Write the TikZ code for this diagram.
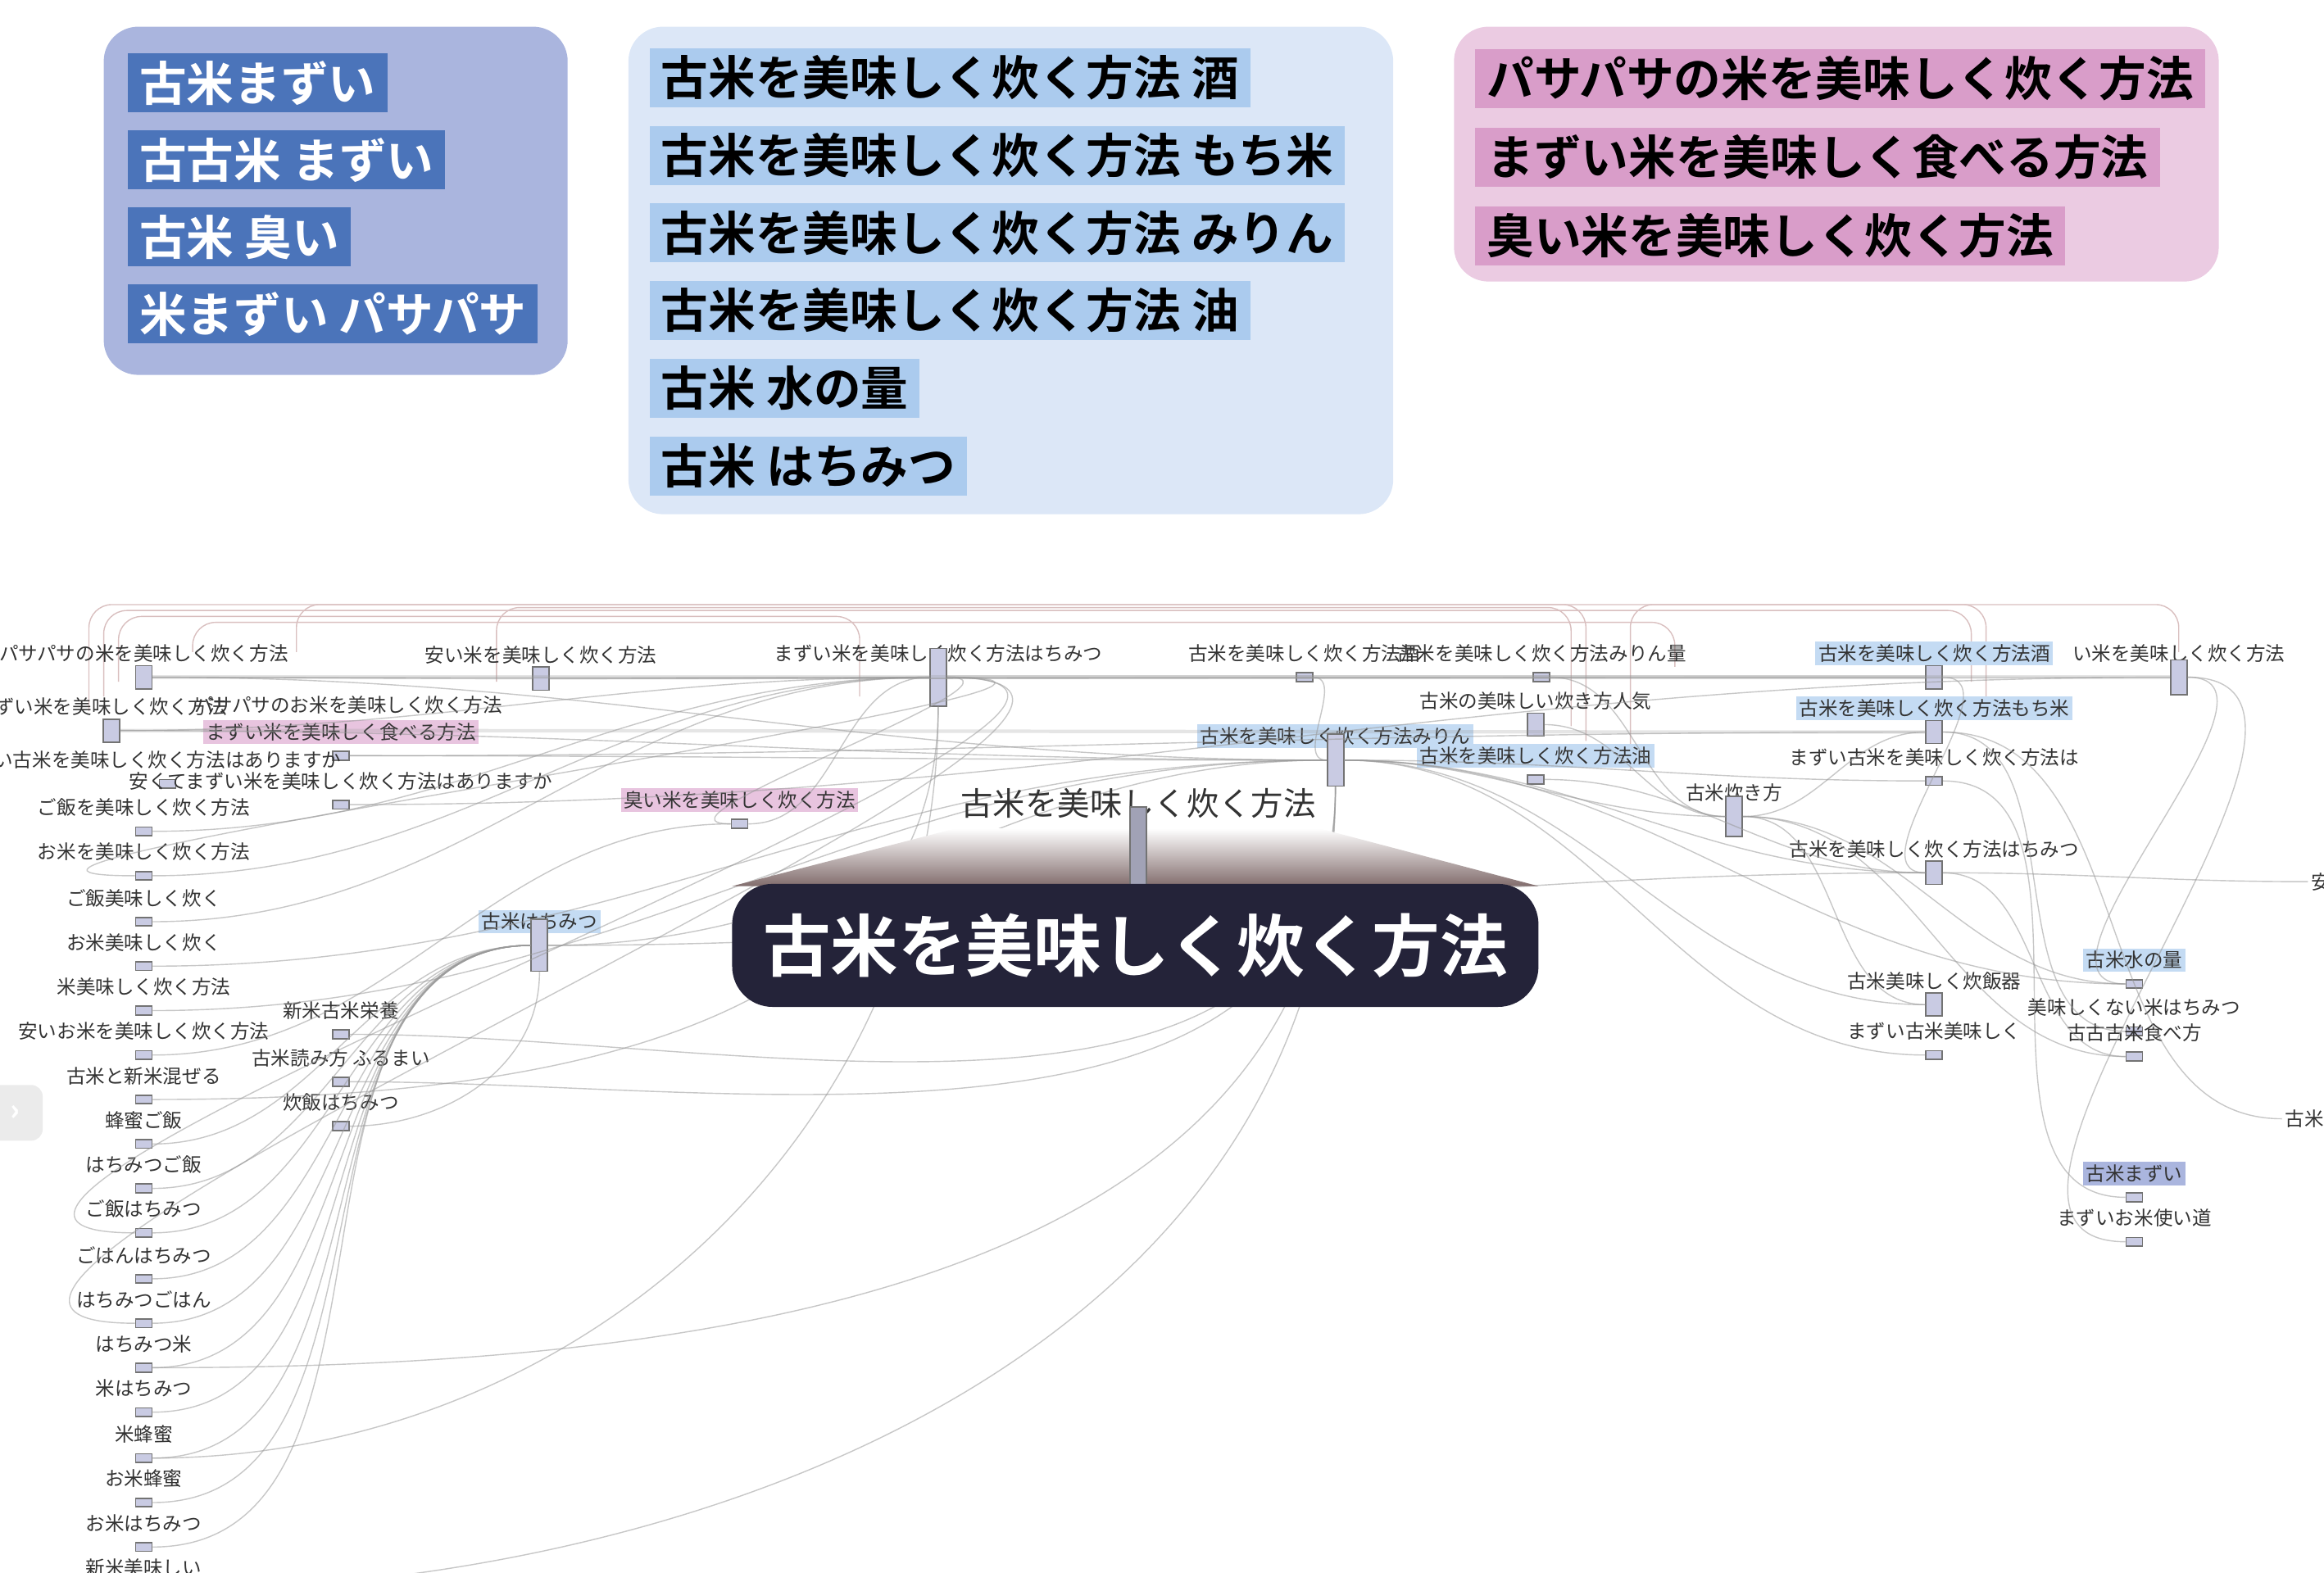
\documentclass[tikz,border=0pt]{standalone}
\usepackage{fontspec}
\setmainfont{Noto Sans CJK JP}
\newfontfamily\jpbold{Noto Sans CJK JP Bold}
\usetikzlibrary{positioning}
\definecolor{boxblue}{HTML}{AAB5DE}
\definecolor{tagblue}{HTML}{4B74BA}
\definecolor{boxsky}{HTML}{DCE7F7}
\definecolor{tagsky}{HTML}{ABCBEE}
\definecolor{boxpink}{HTML}{EBCBE2}
\definecolor{tagpink}{HTML}{D99DC9}
\definecolor{titlebg}{HTML}{242339}
\definecolor{barfill}{HTML}{C9CBE3}
\tikzset{
  group/.style={rounded corners=12pt},
  tag/.style={anchor=west,font=\jpbold\fontsize{16.4}{17}\selectfont,minimum height=0.72cm,inner xsep=4pt,inner ysep=0pt},
  kwlabel/.style={font=\fontsize{6.7}{7}\selectfont,text=black!80,inner sep=1pt},
  bar/.style={draw=black!55,fill=barfill,line width=0.5pt,minimum width=0.2cm,inner sep=0pt},
  link/.style={draw=black!40,opacity=0.55,line width=0.4pt},
  frame/.style={draw=red!40!black!25,line width=0.4pt,rounded corners=8pt}
}
% label with bar below it
\newcommand{\kw}[6][]{%
  \node[kwlabel,#1] (#2-l) at (#3,#4) {#6};
  \node[bar,minimum height=#5] (#2) at (#3,#4+16) {};}
\begin{document}
\begin{tikzpicture}[x=0.018087cm,y=-0.018087cm]
\useasboundingbox (0,0) rectangle (1568,1061);
% keyword groups
\fill[group,boxblue] (70,18) rectangle (383,253);
\fill[group,boxsky] (424,18) rectangle (940,347);
\fill[group,boxpink] (981,18) rectangle (1497,190);
\foreach \t [count=\i] in {古米まずい,古古米 まずい,古米 臭い,米まずい パサパサ}
  \node[tag,fill=tagblue,text=white] (b\i) at (86,4+52*\i) {\t};
\foreach \t [count=\i] in {古米を美味しく炊く方法 酒,古米を美味しく炊く方法 もち米,古米を美味しく炊く方法 みりん,古米を美味しく炊く方法 油,古米 水の量,古米 はちみつ}
  \node[tag,fill=tagsky] (s\i) at (438,0+52.4*\i) {\t};
\foreach \t [count=\i] in {パサパサの米を美味しく炊く方法,まずい米を美味しく食べる方法,臭い米を美味しく炊く方法}
  \node[tag,fill=tagpink] (p\i) at (995,0+53*\i) {\t};
% graph
\begin{scope}
\clip (0,405) rectangle (1568,1061);
\draw[frame] (60,480) |- (1340,408) -- (1340,470);
\draw[frame] (70,470) |- (1330,412) -- (1330,460);
\draw[frame] (200,440) |- (1070,408) -- (1070,500);
\draw[frame] (335,460) |- (1060,410) -- (1060,490);
\draw[frame] (1100,520) |- (1470,408) -- (1470,440);
\draw[frame] (80,460) |- (580,416) -- (580,470);
\draw[frame] (130,440) |- (1130,420) -- (1130,450);
% nodes
\kw{pasa}{97}{441}{8pt}{パサパサの米を美味しく炊く方法}
\kw{yasu}{365}{442}{8pt}{安い米を美味しく炊く方法}
\kw{mazh}{633}{441}{20pt}{まずい米を美味しく炊く方法はちみつ}
\kw{mzk}{75}{477}{8pt}{ずい米を美味しく炊く方法}
\kw{pasao}{235}{476}{3pt}{パサパサのお米を美味しく炊く方法}
\kw[fill=tagpink!60]{taberu}{230}{494}{3pt}{まずい米を美味しく食べる方法}
\kw{arimasu}{113}{513}{3pt}{い古米を美味しく炊く方法はありますか}
\kw{yasuku}{230}{527}{3pt}{安くてまずい米を美味しく炊く方法はありますか}
\kw[fill=tagpink!60]{kusai}{499}{540}{3pt}{臭い米を美味しく炊く方法}
\kw{gohanh}{97}{545}{3pt}{ご飯を美味しく炊く方法}
\kw{komeh}{97}{575}{3pt}{お米を美味しく炊く方法}
\kw{gohank}{97}{606}{3pt}{ご飯美味しく炊く}
\kw{okomek}{97}{636}{3pt}{お米美味しく炊く}
\kw{komek}{97}{666}{3pt}{米美味しく炊く方法}
\kw{yasuo}{97}{696}{3pt}{安いお米を美味しく炊く方法}
\kw{mazeru}{97}{726}{3pt}{古米と新米混ぜる}
\kw{hg1}{97}{756}{3pt}{蜂蜜ご飯}
\kw{hg2}{97}{786}{3pt}{はちみつご飯}
\kw{hg3}{97}{816}{3pt}{ご飯はちみつ}
\kw{hg4}{97}{847}{3pt}{ごはんはちみつ}
\kw{hg5}{97}{877}{3pt}{はちみつごはん}
\kw{hg6}{97}{907}{3pt}{はちみつ米}
\kw{hg7}{97}{937}{3pt}{米はちみつ}
\kw{hg8}{97}{968}{3pt}{米蜂蜜}
\kw{hg9}{97}{998}{3pt}{お米蜂蜜}
\kw{hg10}{97}{1028}{3pt}{お米はちみつ}
\kw{hg11}{97}{1058}{3pt}{新米美味しい}
\kw[fill=tagsky!70]{kohachi}{364}{622}{18pt}{古米はちみつ}
\kw{eiyou}{230}{682}{3pt}{新米古米栄養}
\kw{yomi}{230}{714}{3pt}{古米読み方 ふるまい}
\kw{suihan}{230}{744}{3pt}{炊飯はちみつ}
\kw{sake}{880}{441}{3pt}{古米を美味しく炊く方法酒}
\kw{mirinr}{1040}{441}{3pt}{古米を美味しく炊く方法みりん量}
\kw{ninki}{1036}{473}{8pt}{古米の美味しい炊き方人気}
\kw[fill=tagsky!70]{mirin}{901}{497}{18pt}{古米を美味しく炊く方法みりん}
\kw[fill=tagsky!70]{abura}{1036}{510}{3pt}{古米を美味しく炊く方法油}
\kw{takikata}{1170}{535}{14pt}{古米炊き方}
\kw[fill=tagsky!70]{sake2}{1305}{441}{8pt}{古米を美味しく炊く方法酒}
\kw{mazui}{1470}{441}{12pt}{い米を美味しく炊く方法}
\kw[fill=tagsky!70]{mochi}{1305}{478}{8pt}{古米を美味しく炊く方法もち米}
\kw{mazuiko}{1305}{511}{3pt}{まずい古米を美味しく炊く方法は}
\kw{hachimitsu}{1305}{573}{8pt}{古米を美味しく炊く方法はちみつ}
\kw[fill=tagsky!70]{mizu}{1440}{648}{3pt}{古米水の量}
\kw{suihanki}{1305}{662}{8pt}{古米美味しく炊飯器}
\kw{oishikunai}{1440}{680}{3pt}{美味しくない米はちみつ}
\kw{kokoko}{1440}{697}{3pt}{古古古米食べ方}
\kw{mazuioishi}{1305}{696}{3pt}{まずい古米美味しく}
\kw[fill=boxblue]{komemazui}{1440}{792}{3pt}{古米まずい}
\kw{tsukaimichi}{1440}{822}{3pt}{まずいお米使い道}
\node[kwlabel] (yasu-r) at (1566,595) {安};
\node[kwlabel] (kome-r) at (1555,755) {古米};
% links
\foreach \a/\b in {pasa/mazh,yasu/mazh,pasa/yasu,mzk/mazh,mzk/mirin,pasa/mirin,yasu/sake2,mazh/mazui,mazh/kusai,mazh/hg3,mazh/hg5,mazh/komeh,
  gohanh/mazh,komeh/mazh,gohank/mazh,okomek/mirin,komek/mirin,yasuo/kusai,kohachi/mirin,kohachi/hachimitsu,
  hg1/kohachi,hg2/kohachi,hg3/kohachi,hg4/kohachi,hg5/kohachi,hg6/kohachi,hg7/kohachi,hg8/kohachi,hg9/kohachi,hg10/kohachi,
  kusai/mazh,yasuku/mazui,taberu/mochi,taberu/mirin,mirin/takikata,mirin/hachimitsu,mirin/mizu,mirin/mazuiko,sake/mirin,
  ninki/takikata,abura/hachimitsu,takikata/mizu,takikata/suihanki,takikata/kokoko,takikata/mochi,mazui/mizu,mazui/tsukaimichi,
  sake2/hachimitsu,mochi/oishikunai,mazuiko/komemazui,hachimitsu/kokoko,mirin/suihanki,mirinr/takikata,mirin/mazuioishi}
  \draw[link] (\a.east) to[out=0,in=180] (\b.west);
\foreach \a/\b in {eiyou/mirin,yomi/mirin,suihan/kohachi,hg11/mirin,hg6/mirin,hg8/mazh,mazeru/mazh}
  \draw[link] (\a.east) to[out=0,in=-90] (\b.south);
\draw[link,line width=1.2pt,opacity=0.25] (pasa.east) to[out=0,in=180] (sake2.west);
\draw[link,line width=1.2pt,opacity=0.25] (mzk.east) to[out=0,in=180] (mochi.west);
\draw[link,line width=1.2pt,opacity=0.25] (mazh.east) to[out=0,in=180] (mazui.west);
\draw[link] (hachimitsu.east) to[out=0,in=180] (yasu-r.west);
\draw[link] (mochi.east) to[out=0,in=180] (kome-r.west);
% main keyword
\node[font=\fontsize{11.2}{12}\selectfont,text=black!80] (main-l) at (768,542) {古米を美味しく炊く方法};
\shade[top color=white,bottom color=black!45!red!15!gray] (645,559) -- (890,559) -- (1038,598) -- (494,598) -- cycle;
\node[bar,minimum height=28pt,fill=black!20!barfill] (main) at (768,572) {};
\node[fill=titlebg,text=white,rounded corners=14pt,font=\jpbold\fontsize{23.5}{24}\selectfont,minimum width=544*0.018087cm,minimum height=83*0.018087cm] (title) at (766,638) {古米を美味しく炊く方法};
\node[fill=black!8,rounded corners=4pt,minimum width=0.68cm,minimum height=0.68cm,text=white,font=\bfseries] (tab) at (10,751) {›};
\end{scope}
\end{tikzpicture}
\end{document}
